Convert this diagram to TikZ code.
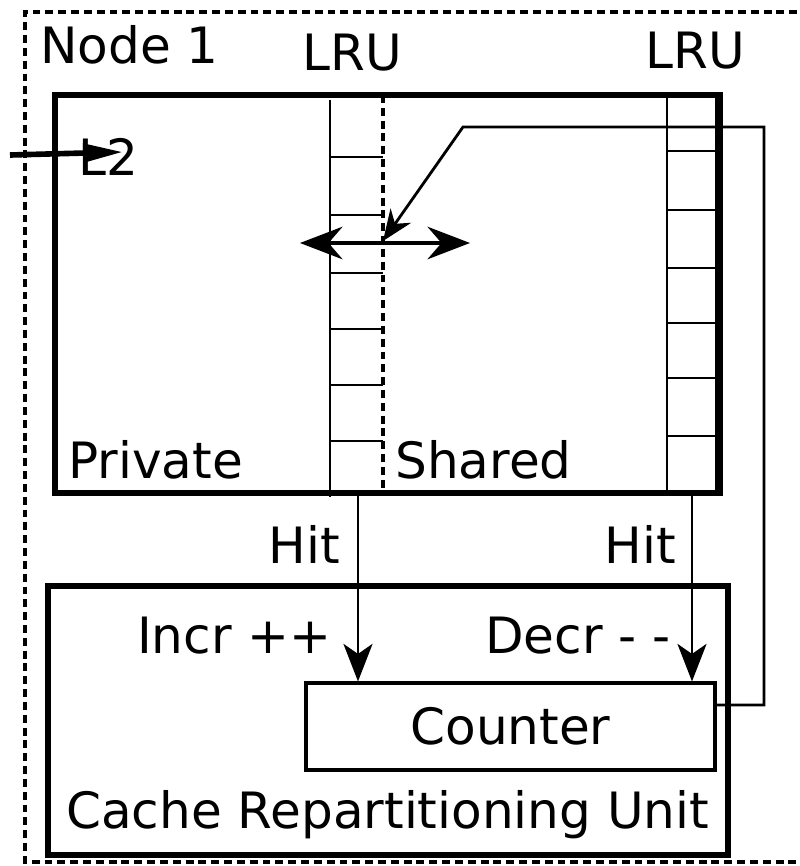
\documentclass[tikz,border=0pt]{standalone}
\usepackage{fontspec}
\setmainfont{DejaVu Sans}
\usetikzlibrary{arrows.meta}

\tikzset{
  box/.style={draw, line width=3pt, inner sep=0pt},
  lbl/.style={inner sep=0pt, font=\fontsize{28.5}{34}\selectfont},
  wire/.style={line width=1.6pt},
  dashline/.style={line width=2.4pt, dash pattern={on 4.5pt off 2.8pt}},
  hittip/.style={-{Stealth[length=0.75cm, width=0.58cm, inset=0.2cm]}},
}

\begin{document}
\begin{tikzpicture}[x=0.02cm, y=-0.02cm]
	\useasboundingbox (0,0) rectangle (799,866);
	% Outer node frame:
	\draw[dashline, line width=2.8pt] (810,12) -- (25,12) -- (25,862) -- (810,862);
	\node[lbl, anchor=base west] (node1) at (40,63) {Node 1};
	% L2 cache and LRU stacks:
	\node[box, minimum width=13.3cm, minimum height=7.96cm] (l2) at (387.5,294) {};
	\node[lbl, anchor=base] (lruA) at (352,70) {LRU};
	\node[lbl, anchor=base] (lruB) at (695,68) {LRU};
	\node[lbl, anchor=base west] (l2lbl) at (78,175) {L2};
	\node[lbl, anchor=base west] (private) at (68,478) {Private};
	\node[lbl, anchor=base west] (shared) at (395,478) {Shared};
	\draw[wire] (330,100) -- (330,497);
	\draw[dashline, line width=2.2pt] (383,95) -- (383,493);
	\foreach \y in {157,215,273,329,385,441}
		\draw[wire] (330,\y) -- (383,\y);
	\draw[wire] (667,95) -- (667,493);
	\draw[wire] (716,95) -- (716,493);
	\foreach \y in {151,210,268,323,378,436}
		\draw[wire] (667,\y) -- (716,\y);
	\coordinate (l2in) at (10,155);
	\coordinate (l2tip) at (123,152);
	\draw[line width=3.2pt, -{Triangle[length=0.8cm, width=0.36cm]}] (l2in) -- (l2tip);
	% Partition point:
	\coordinate (split) at (383,241);
	\coordinate (moveL) at (300,243);
	\coordinate (moveR) at (470,243);
	\draw[line width=2.2pt, {Stealth[length=0.85cm, width=0.65cm, inset=0.28cm]}-{Stealth[length=0.85cm, width=0.65cm, inset=0.28cm]}] (moveL) -- (moveR);
	% Cache repartitioning unit:
	\node[box, line width=3.2pt, minimum width=13.6cm, minimum height=5.38cm] (cru) at (388,720.5) {};
	\node[box, line width=1.8pt, minimum width=8.18cm, minimum height=1.74cm, font=\fontsize{28.5}{34}\selectfont] (counter) at (510.5,726.5) {Counter};
	\node[lbl, anchor=base west] (crulbl) at (66,828) {Cache Repartitioning Unit};
	\node[lbl, anchor=base east] (hitA) at (340,563) {Hit};
	\node[lbl, anchor=base east] (hitB) at (676,563) {Hit};
	\node[lbl, anchor=base east] (incr) at (332,653) {Incr ++};
	\node[lbl, anchor=base east] (decr) at (671,653) {Decr - -};
	\coordinate (hitsrcA) at (358,493);
	\coordinate (hitsrcB) at (692,493);
	\draw[wire, hittip] (hitsrcA) -- (hitsrcA |- counter.north);
	\draw[wire, hittip] (hitsrcB) -- (hitsrcB |- counter.north);
	% Feedback from counter to partition point:
	\coordinate (fbtop) at (764,127);
	\coordinate (fbbend) at (463,127);
	\draw[wire, -{Stealth[length=0.62cm, width=0.5cm, inset=0.2cm]}] ([yshift=0.43cm]counter.east) -| (fbtop) -- (fbbend) -- (split);
\end{tikzpicture}
\end{document}
